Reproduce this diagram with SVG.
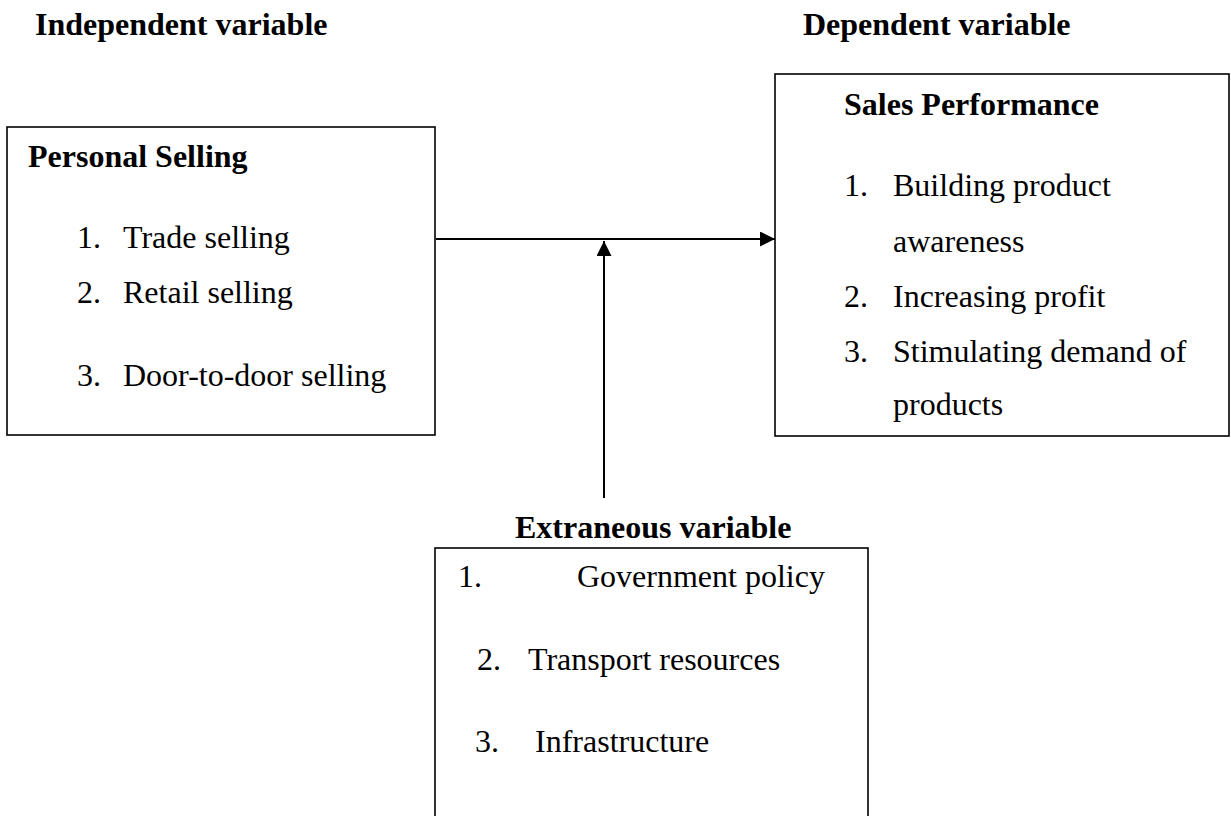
<svg xmlns="http://www.w3.org/2000/svg" width="1231" height="816" viewBox="0 0 1231 816">
  <style>
    text { font-family: "Liberation Serif", "Times New Roman", serif; font-size: 32px; fill: #000; }
    .b { font-weight: bold; }
    .box { fill: #fff; stroke: #000; stroke-width: 1.6; }
    .conn { fill: none; stroke: #000; stroke-width: 2; }
  </style>
  <defs>
    <marker id="arrow" markerUnits="userSpaceOnUse" markerWidth="16" markerHeight="16" refX="15" refY="7.5" orient="auto">
      <path d="M0,0 L15,7.5 L0,15 z" fill="#000"/>
    </marker>
  </defs>
  <rect width="1231" height="816" fill="#fff"/>

  <g id="heading-independent">
    <text class="b" x="35" y="35">Independent variable</text>
  </g>
  <g id="heading-dependent">
    <text class="b" x="803" y="35">Dependent variable</text>
  </g>

  <g id="personal-selling">
    <rect class="box" x="7" y="127" width="428" height="308"/>
    <text class="b" x="28" y="167">Personal Selling</text>
    <text x="77" y="248">1.</text><text x="123" y="248">Trade selling</text>
    <text x="77" y="303">2.</text><text x="123" y="303">Retail selling</text>
    <text x="77" y="386">3.</text><text x="123" y="386">Door-to-door selling</text>
  </g>

  <g id="sales-performance">
    <rect class="box" x="775" y="74" width="454" height="362"/>
    <text class="b" x="844" y="115">Sales Performance</text>
    <text x="844" y="196">1.</text><text x="893" y="196">Building product</text>
    <text x="893" y="252">awareness</text>
    <text x="844" y="307">2.</text><text x="893" y="307">Increasing profit</text>
    <text x="844" y="362">3.</text><text x="893" y="362">Stimulating demand of</text>
    <text x="893" y="415">products</text>
  </g>

  <g id="extraneous">
    <text class="b" x="515" y="538">Extraneous variable</text>
    <rect class="box" x="435" y="548" width="433" height="280"/>
    <text x="458" y="587">1.</text><text x="577" y="587">Government policy</text>
    <text x="477" y="670">2.</text><text x="528" y="670">Transport resources</text>
    <text x="475" y="752">3.</text><text x="535" y="752">Infrastructure</text>
  </g>

  <g id="connectors">
    <line class="conn" x1="436" y1="239" x2="775" y2="239" marker-end="url(#arrow)"/>
    <line class="conn" x1="604" y1="498" x2="604" y2="241" marker-end="url(#arrow)"/>
  </g>
</svg>
